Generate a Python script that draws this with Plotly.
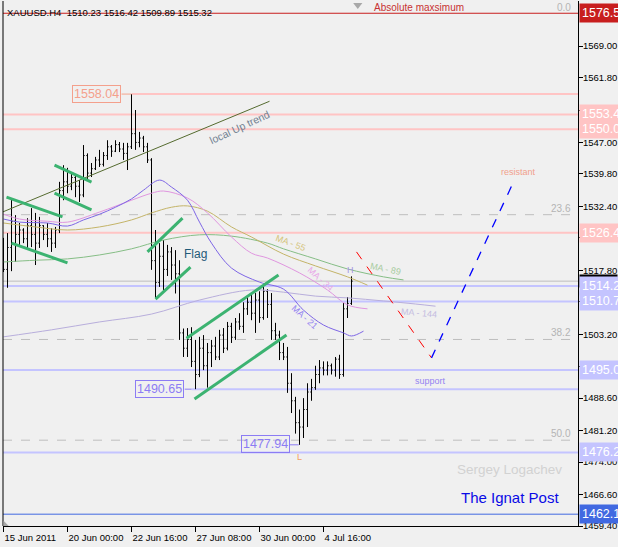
import plotly.graph_objects as go

# ---------------- data ----------------
symbol = "XAUUSD.H4"
bar_idx = list(range(88))
opens = [1519.0,1518.0,1523.0,1529.0,1526.0,1527.0,1525.0,1528.0,1526.0,1524.0,
         1528.0,1526.0,1525.0,1524.0,1527.0,1536.0,1538.0,1537.0,1539.0,1537.0,
         1535.0,1544.0,1540.0,1541.0,1543.0,1542.0,1544.0,1546.0,1545.0,1546.5,
         1545.5,1544.5,1546.0,1549.0,1547.0,1548.0,1546.0,1543.0,1520.0,1515.0,
         1521.0,1518.0,1522.0,1519.0,1517.0,1503.5,1500.0,1502.0,1497.0,1494.0,
         1500.0,1496.0,1499.0,1500.5,1498.0,1503.0,1500.0,1505.0,1502.5,1506.0,
         1505.0,1509.0,1510.5,1508.0,1511.0,1507.0,1513.0,1510.0,1504.0,1503.0,
         1499.0,1498.0,1492.0,1488.0,1483.0,1482.0,1486.0,1490.0,1491.0,1494.0,
         1495.5,1495.0,1496.0,1495.0,1497.5,1494.0,1509.0,1510.23]
highs = [1525.2,1526.3,1534.3,1530.4,1528.6,1527.4,1529.7,1532.0,1530.9,1530.0,
         1528.1,1528.6,1527.4,1527.7,1538.0,1541.8,1541.2,1540.0,1539.5,1538.4,
         1546.4,1544.5,1542.3,1543.7,1545.3,1544.8,1547.5,1546.4,1547.5,1547.1,
         1546.9,1546.9,1558.04,1554.4,1549.4,1548.5,1546.9,1543.4,1527.0,1524.0,
         1524.7,1523.6,1523.1,1522.4,1520.1,1504.5,1504.6,1504.8,1501.9,1502.6,
         1503.0,1501.2,1501.9,1502.6,1504.2,1504.6,1506.0,1505.8,1506.9,1508.0,
         1510.5,1511.7,1512.2,1512.6,1513.0,1514.4,1513.5,1512.6,1505.8,1504.0,
         1501.2,1500.3,1494.3,1488.9,1486.0,1488.6,1492.0,1493.0,1496.0,1497.3,
         1497.0,1497.0,1496.5,1498.0,1498.5,1510.3,1511.7,1516.42]
lows = [1517.4,1513.8,1517.6,1519.7,1523.6,1524.0,1522.9,1523.1,1519.0,1522.9,
        1524.7,1523.1,1522.0,1522.9,1526.3,1533.8,1535.4,1536.1,1534.5,1533.4,
        1534.5,1538.4,1539.1,1540.7,1541.4,1541.5,1543.0,1543.7,1544.8,1544.8,
        1543.0,1540.7,1545.5,1545.3,1545.9,1544.8,1542.3,1517.9,1511.5,1514.0,
        1513.3,1516.5,1515.6,1512.5,1501.9,1498.0,1498.0,1495.7,1490.65,1493.4,
        1495.0,1491.0,1495.7,1497.3,1497.3,1498.9,1499.5,1501.2,1501.9,1504.2,
        1503.5,1507.6,1506.4,1503.5,1505.8,1506.5,1506.9,1501.9,1501.9,1497.3,
        1497.3,1489.8,1485.2,1480.5,1477.94,1479.5,1482.0,1488.0,1490.5,1492.0,
        1493.8,1493.8,1494.0,1493.5,1493.0,1493.5,1506.9,1509.89]
closes = [1518.0,1523.0,1529.0,1526.0,1527.0,1525.0,1528.0,1526.0,1524.0,1528.0,
          1526.0,1525.0,1524.0,1527.0,1536.0,1538.0,1537.0,1539.0,1537.0,1535.0,
          1544.0,1540.0,1541.0,1543.0,1542.0,1544.0,1546.0,1545.0,1546.5,1545.5,
          1544.5,1546.0,1549.0,1547.0,1548.0,1546.0,1543.0,1520.0,1515.0,1521.0,
          1518.0,1522.0,1519.0,1517.0,1503.5,1500.0,1502.0,1497.0,1494.0,1500.0,
          1496.0,1499.0,1500.5,1498.0,1503.0,1500.0,1505.0,1502.5,1506.0,1505.0,
          1509.0,1510.5,1508.0,1511.0,1507.0,1513.0,1510.0,1504.0,1503.0,1499.0,
          1498.0,1492.0,1488.0,1483.0,1482.0,1486.0,1490.0,1491.0,1494.0,1495.5,
          1495.0,1496.0,1495.0,1497.5,1494.0,1509.0,1510.23,1515.32]

time_tick_idx = [0, 16, 32, 48, 64, 80]
time_tick_labels = ["15 Jun 2011", "20 Jun 00:00", "22 Jun 16:00", "27 Jun 08:00", "30 Jun 00:00", "4 Jul 16:00"]

price_ticks = [1569.00, 1561.80, 1554.40, 1547.00, 1539.80, 1532.40, 1525.20, 1517.80,
               1510.60, 1503.20, 1495.80, 1488.60, 1481.20, 1474.00, 1466.60, 1459.40]

# moving averages
ma21_x = [0, 4, 11, 16, 20, 24, 28, 32, 35, 39, 42, 46, 49, 52, 57, 64, 70, 75, 80, 85, 87, 90]
ma21_y = [1529.5, 1528.8, 1528.6, 1527.9, 1529.3, 1530.6, 1532.2, 1534.1, 1536.1, 1538.4, 1536.8,
          1533.8, 1528.8, 1524.0, 1518.3, 1515.1, 1513.5, 1508.7, 1505.3, 1503.5, 1502.8, 1503.9]
ma34_x = [0, 4, 11, 16, 24, 32, 37, 40, 46, 51, 57, 62, 66, 74, 81, 86, 91]
ma34_y = [1530.6, 1529.5, 1529.0, 1528.8, 1531.1, 1533.8, 1535.4, 1535.9, 1534.3, 1530.9, 1525.4,
          1521.7, 1520.6, 1517.2, 1513.3, 1509.9, 1509.0]
ma55_x = [0, 8, 16, 24, 32, 37, 42, 46, 51, 57, 62, 70, 78, 86, 91]
ma55_y = [1528.6, 1527.7, 1527.0, 1527.7, 1529.3, 1530.9, 1532.2, 1532.5, 1531.3, 1527.7, 1525.4,
          1521.5, 1518.8, 1516.3, 1514.4]
ma89_x = [0, 8, 16, 24, 32, 40, 49, 57, 66, 70, 78, 86, 95, 100]
ma89_y = [1519.7, 1520.1, 1520.4, 1521.3, 1522.7, 1524.7, 1525.9, 1525.6, 1524.0, 1522.7, 1520.4,
          1518.1, 1516.3, 1515.6]
ma144_x = [0, 12, 24, 37, 49, 62, 70, 78, 86, 95, 103, 108]
ma144_y = [1502.6, 1504.2, 1506.0, 1507.8, 1511.0, 1513.3, 1512.8, 1511.9, 1511.5, 1510.8, 1510.1, 1509.6]

# hand-drawn trend lines: (x0, x1), (y0, y1)
channel_lines_x = [[0.75, 14.75], [2.0, 16.0], [12.75, 22.0], [12.75, 22.0],
                   [36.0, 44.75], [38.0, 46.75], [45.75, 68.75], [47.75, 70.75]]
channel_lines_y = [[1534.5, 1530.0], [1524.0, 1519.5], [1541.8, 1537.95], [1535.4, 1531.6],
                   [1522.0, 1529.7], [1511.2, 1518.5], [1502.3, 1516.7], [1488.4, 1503.0]]
uptrend_x = [-0.25, 66.5]
uptrend_y = [1531.1, 1556.4]
forecast_down_x = [88.25, 107.0]
forecast_down_y = [1522.0, 1497.8]
forecast_up_x = [107.0, 127.0]
forecast_up_y = [1497.8, 1537.0]

abs_max = 1576.5
resist_levels = [1553.4, 1550.0, 1526.4]
support_levels = [1514.2, 1510.7, 1495.0, 1476.2]
swing_high = 1558.04
swing_low1 = 1490.65
swing_low2 = 1477.94
bottom_level = 1462.1
fibo_levels = [1530.5, 1502.0, 1479.0]
fibo_names = ["23.6", "38.2", "50.0"]

# ---------------- figure ----------------
fig = go.Figure()

PINK = "#FFC4C4"
LAV = "#C4C4FF"
GREEN = "#3CB371"
X0 = -0.125
XMAX = X0 + 575 / 4

shapes = []
def hline(y, color, width, x0=X0, x1=XMAX, dash="solid"):
    shapes.append(dict(type="line", xref="x", yref="y", x0=x0, x1=x1, y0=y, y1=y,
                       line=dict(color=color, width=width, dash=dash), layer="below"))

for lv in fibo_levels:
    hline(lv, "#BEBEBE", 1, dash="dash")
hline(closes[-1], "#BEBEBE", 1)
for lv in resist_levels:
    hline(lv, PINK, 2)
hline(swing_high, PINK, 2, x0=32)
for lv in support_levels:
    hline(lv, LAV, 2)
hline(swing_low1, LAV, 2, x0=47)
hline(bottom_level, "#4169E1", 1)
hline(abs_max, "#C81E1E", 1)
# connectors
shapes.append(dict(type="line", xref="x", yref="y", x0=29.5, x1=32, y0=swing_high, y1=swing_high,
                   line=dict(color="#F4A48C", width=1)))
shapes.append(dict(type="line", xref="x", yref="y", x0=45.3, x1=47, y0=swing_low1, y1=swing_low1,
                   line=dict(color="#8C7CF4", width=1)))
shapes.append(dict(type="line", xref="x", yref="y", x0=71.6, x1=73.8, y0=swing_low2, y1=swing_low2,
                   line=dict(color="#8C7CF4", width=1)))
# left border
shapes.append(dict(type="line", xref="paper", yref="paper", x0=0, x1=0, y0=0, y1=1,
                   line=dict(color="black", width=1)))
# small chart markers
shapes.append(dict(type="path", xref="paper", yref="paper",
                   path="M 0.609 0.996 L 0.625 0.996 L 0.617 0.985 Z",
                   fillcolor="#A8A8A8", line=dict(width=0)))
shapes.append(dict(type="path", xref="paper", yref="paper",
                   path="M 0.001 0.0 L 0.001 0.010 L 0.010 0.0 Z",
                   fillcolor="#A8A8A8", line=dict(width=0)))

# MAs
def ma(x, y, color):
    fig.add_trace(go.Scatter(x=x, y=y, mode="lines", line=dict(color=color, width=1, shape="spline"),
                             hoverinfo="skip"))
ma(ma144_x, ma144_y, "#B8AEDC")
ma(ma89_x, ma89_y, "#86BE86")
ma(ma55_x, ma55_y, "#C4B468")
ma(ma34_x, ma34_y, "#E096E0")
ma(ma21_x, ma21_y, "#7E66E6")

# trend lines
fig.add_trace(go.Scatter(x=uptrend_x, y=uptrend_y, mode="lines",
                         line=dict(color="#556B2F", width=1), hoverinfo="skip"))
for lx, ly in zip(channel_lines_x, channel_lines_y):
    fig.add_trace(go.Scatter(x=lx, y=ly, mode="lines", line=dict(color=GREEN, width=3),
                             hoverinfo="skip"))
fig.add_trace(go.Scatter(x=forecast_down_x, y=forecast_down_y, mode="lines",
                         line=dict(color="#FF0000", width=1, dash="dash"), hoverinfo="skip"))
fig.add_trace(go.Scatter(x=forecast_up_x, y=forecast_up_y, mode="lines",
                         line=dict(color="#0000FF", width=1.3, dash="dash"), hoverinfo="skip"))

# bars
fig.add_trace(go.Ohlc(x=bar_idx, open=opens, high=highs, low=lows, close=closes,
                      increasing=dict(line=dict(color="black", width=1)),
                      decreasing=dict(line=dict(color="black", width=1)),
                      tickwidth=0.3, hoverinfo="skip"))

FONT = "Liberation Sans, Arial, sans-serif"
ann = []
def txt(x, y, text, color, size, xanchor="center", yanchor="middle", angle=0, **kw):
    d = dict(x=x, y=y, xref="x", yref="y", text=text, showarrow=False,
             font=dict(family=FONT, size=size, color=color),
             xanchor=xanchor, yanchor=yanchor, textangle=angle)
    d.update(kw)
    ann.append(d)

header = f"{symbol}\u00a0\u00a0{opens[-1]:.2f} {highs[-1]:.2f} {lows[-1]:.2f} {closes[-1]:.2f}"
ann.append(dict(x=0, y=1, xref="paper", yref="paper", xshift=2, yshift=-4, text=header,
                showarrow=False, xanchor="left", yanchor="top",
                font=dict(family=FONT, size=9.5, color="black")))
txt(103.75, abs_max, "Absolute maxsimum", "#C83232", 10, yanchor="bottom", yshift=-2)
txt(142.3, abs_max, "0.0", "#B4B4B4", 10, xanchor="right", yanchor="bottom", yshift=-2)
for lv, nm in zip(fibo_levels, fibo_names):
    txt(142.3, lv, nm, "#B4B4B4", 10, xanchor="right", yanchor="bottom", yshift=-1)

box = dict(borderwidth=1, borderpad=1)
txt(29.4, swing_high, f"{swing_high:.2f}", "#F4A08C", 12.5, xanchor="right",
    bordercolor="#F4A08C", **box)
txt(45.2, swing_low1, f"{swing_low1:.2f}", "#8C7CF4", 12.5, xanchor="right",
    bordercolor="#8C7CF4", **box)
txt(71.5, swing_low2 + 0.3, f"{swing_low2:.2f}", "#8C7CF4", 12.5, xanchor="right",
    bordercolor="#8C7CF4", **box)

txt(59, 1550.6, "local Up trend", "#708090", 10.5, angle=-25)
txt(48, 1521.5, "Flag", "#1F5A78", 12)
txt(71.75, 1524.0, "MA - 55", "#D4C47C", 9, angle=20)
txt(79.25, 1515.8, "MA - 34", "#E8A8E8", 9, angle=42)
txt(75.25, 1507.1, "MA - 21", "#9484F0", 9, angle=42)
txt(95.5, 1518.1, "MA - 89", "#A8CCA0", 9, angle=12)
txt(103.75, 1508.0, "MA - 144", "#C4BCE0", 9, angle=5)
txt(86.75, 1517.9, "H", "#A494E4", 9)
txt(74.0, 1475.2, "L", "#F4A060", 9)
txt(128.75, 1540.2, "resistant", "#F0A08C", 9)
txt(106.75, 1492.5, "support", "#9484F0", 9)
txt(126.5, 1472.2, "Sergey Logachev", "#D2D2D2", 13.5)
txt(126.5, 1466.0, "The Ignat Post", "#0A0AE6", 15)

# right axis price labels
def plabel(y, text, bg, size=12.5, pad=2):
    ann.append(dict(x=1, y=y, xref="paper", yref="y", text=text, showarrow=False,
                    xanchor="left", yanchor="middle", xshift=1, bgcolor=bg, borderpad=pad,
                    font=dict(family=FONT, size=size, color="white")))
plabel(abs_max, f"{abs_max:.1f}\u00a0\u00a0", "#C81E1E")
for lv in resist_levels:
    plabel(lv, f"{lv:.1f}\u00a0\u00a0", PINK)
plabel(closes[-1], f"{closes[-1]:.2f}\u00a0", "black", size=9, pad=1)
for lv in support_levels:
    plabel(lv, f"{lv:.1f}\u00a0\u00a0", LAV)
plabel(bottom_level, f"{bottom_level:.1f}\u00a0\u00a0", "#4169E1")

fig.update_layout(
    width=618, height=547,
    margin=dict(l=3, r=40, t=1, b=21),
    paper_bgcolor="#F0F0F0", plot_bgcolor="#F0F0F0",
    showlegend=False,
    shapes=shapes, annotations=ann,
    font=dict(family=FONT, size=9, color="black"),
    xaxis=dict(range=[X0, XMAX], tickvals=time_tick_idx, ticktext=time_tick_labels,
               ticks="outside", ticklen=5, tickcolor="black", showgrid=False, zeroline=False,
               showline=True, linecolor="black", linewidth=1, rangeslider=dict(visible=False),
               ticklabelposition="outside right", ticklabelstandoff=3,
               tickfont=dict(size=9.5, color="black", family=FONT), fixedrange=True),
    yaxis=dict(range=[1459.4, 1579.3], side="right", tickvals=price_ticks,
               ticktext=[f"{v:.2f}" for v in price_ticks], ticks="outside", ticklen=4,
               tickcolor="black", showgrid=False, zeroline=False, showline=True,
               linecolor="black", linewidth=1, ticklabelstandoff=-2,
               tickfont=dict(size=9.5, color="black", family=FONT), fixedrange=True),
)

fig.write_html("out.html")
